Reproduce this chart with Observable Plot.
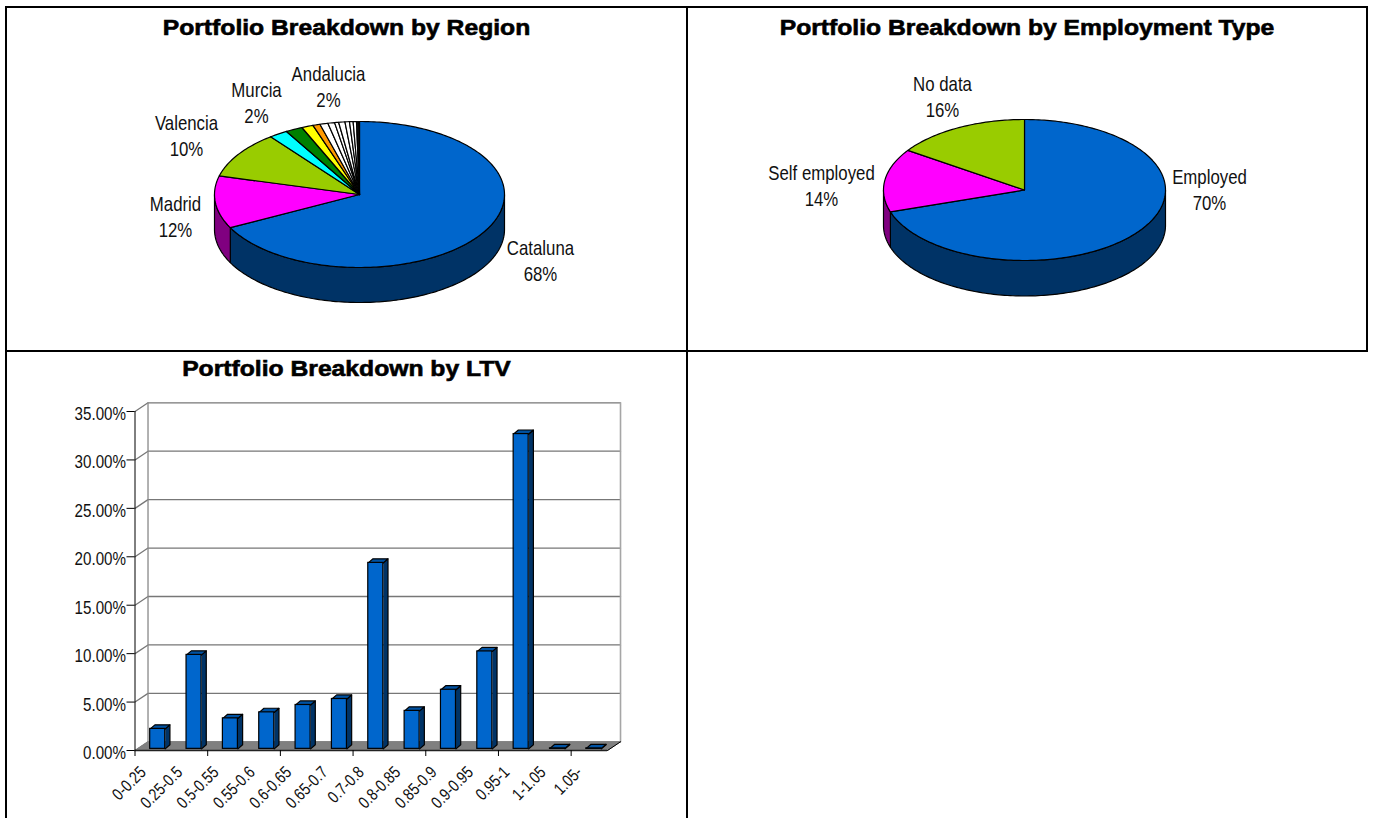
<!DOCTYPE html>
<html>
<head>
<meta charset="utf-8">
<script src="https://cdn.jsdelivr.net/npm/d3@7"></script>
<script src="https://cdn.jsdelivr.net/npm/@observablehq/plot@0.6"></script>
<style>
  html,body{margin:0;padding:0;background:#fff;overflow:hidden;width:1374px;height:818px}
  .cell{position:absolute;box-sizing:border-box;border:2px solid #000}
  .title{position:absolute;text-align:center;font:bold 22px/26px "Liberation Sans",sans-serif;color:#000;-webkit-text-stroke:.6px #000;white-space:nowrap;transform:scaleX(1.122)}
  .chart{position:absolute}
  .chart svg{display:block;overflow:visible;background:none}
</style>
</head>
<body>
<div class="cell" style="left:5px;top:6px;width:683px;height:346px"></div>
<div class="cell" style="left:686px;top:6px;width:682px;height:346px"></div>
<div class="cell" style="left:5px;top:350px;width:683px;height:480px"></div>
<div class="title" id="t1" style="left:7px;top:15px;width:679px"></div>
<div class="title" id="t2" style="left:688px;top:15px;width:678px"></div>
<div class="title" id="t3" style="left:7px;top:356px;width:679px"></div>
<div class="chart" id="c1" style="left:7px;top:50px"></div>
<div class="chart" id="c2" style="left:688px;top:50px"></div>
<div class="chart" id="c3" style="left:7px;top:352px"></div>
<script>
// ---- data ----
const regionTitle = "Portfolio Breakdown by Region";
const regionShares = [67.5, 11.6, 10.4, 2.1, 1.9, 1.3, 0.8, 0.9, 0.75, 0.45, 0.7, 0.5, 0.4, 0.37, 0.13, 0.1, 0.1];
const regionColors = ["#0066CC","#FF00FF","#99CC00","#00FFFF","#008000","#FFFF00","#FF9900","#FFFFFF","#FFFFFF","#FFFFFF","#FFFFFF","#FFFFFF","#FFFFFF","#FFFFFF","#FFFFFF","#FFFFFF","#FFFFFF"];
const regionWalls = ["#003366","#800080"];
const regionLabels = ["Cataluna\n68%","Madrid\n12%","Valencia\n10%","Murcia\n2%","Andalucia\n2%"];

const employmentTitle = "Portfolio Breakdown by Employment Type";
const employmentShares = [70, 14.5, 15.5];
const employmentColors = ["#0066CC","#FF00FF","#99CC00"];
const employmentWalls = ["#003366","#800080"];
const employmentLabels = ["Employed\n70%","Self employed\n14%","No data\n16%"];

const ltvTitle = "Portfolio Breakdown by LTV";
const ltvCategories = ["0-0.25","0.25-0.5","0.5-0.55","0.55-0.6","0.6-0.65","0.65-0.7","0.7-0.8","0.8-0.85","0.85-0.9","0.9-0.95","0.95-1","1-1.05","1.05-"];
const ltvValues = [2.06, 9.7, 3.15, 3.77, 4.53, 5.15, 19.2, 3.92, 6.1, 10.06, 32.5, 0.05, 0.05];
const ltvTicks = [0, 5, 10, 15, 20, 25, 30, 35];

// ---- layout ----
const FONT = '"Liberation Sans",sans-serif';
const PIE_LABEL_SIZE = 20.5;
const TICK_SIZE = 18.5;
const NARROW = 0.82; // the labels are set in a narrow grotesque
const regionLayout = {cx:359, cy:194, rx:145, ry:73, depth:35, top:50, left:7, w:679, h:300,
  labelOffsets:[[181,67],[-184,23],[-173,-58],[-103,-91],[-31,-107]]};
const employmentLayout = {cx:1024, cy:189.5, rx:141, ry:70.5, depth:35.5, top:50, left:688, w:678, h:300,
  labelOffsets:[[185,0.5],[-203,-3.5],[-82,-92.5]]};

function narrow(svg){
  svg.querySelectorAll("text").forEach(t => {
    if (t.textContent) t.setAttribute("transform", (t.getAttribute("transform") || "") + ` scale(${NARROW},1)`);
  });
  return svg;
}

function piePlot(shares, colors, walls, labels, L){
  const depthU = L.depth / L.ry;
  const tau = Math.PI * 2;
  const pt = (a, drop = 0) => ({x: Math.sin(a), y: Math.cos(a) - drop});
  const arc = (a0, a1, drop) => {
    const n = Math.max(1, Math.ceil(Math.abs(a1 - a0) / 0.02));
    return d3.range(n + 1).map(i => pt(a0 + (a1 - a0) * i / n, drop));
  };
  let cum = 0;
  const total = d3.sum(shares);
  const slices = shares.map((v, i) => {
    const a0 = cum / total * tau; cum += v;
    return {i, a0, a1: cum / total * tau};
  });
  const sides = [], tops = [];
  slices.forEach(s => {
    const a0 = Math.max(s.a0, Math.PI / 2), a1 = Math.min(s.a1, Math.PI * 1.5);
    if (a1 > a0 && walls[s.i]) {
      const pts = [...arc(a0, a1, 0), ...arc(a1, a0, depthU)];
      pts.push(pts[0]);
      pts.forEach(p => sides.push({...p, id: s.i, color: walls[s.i]}));
    }
    const pts = [{x:0, y:0}, ...arc(s.a0, s.a1, 0), {x:0, y:0}];
    pts.forEach(p => tops.push({...p, id: s.i, color: colors[s.i]}));
  });
  const labelRows = labels.map((text, i) => ({
    text, x: L.labelOffsets[i][0] / L.rx, y: -L.labelOffsets[i][1] / L.ry
  }));
  return narrow(Plot.plot({
    width: L.w, height: L.h, margin: 0,
    style: {fontFamily: FONT, background: "none", overflow: "visible"},
    x: {axis: null, domain: [-1, 1], range: [L.cx - L.rx - L.left, L.cx + L.rx - L.left]},
    y: {axis: null, domain: [-1, 1], range: [L.cy + L.ry - L.top, L.cy - L.ry - L.top]},
    marks: [
      Plot.line(sides, {x:"x", y:"y", z:"id", fill:"color", stroke:"#000", strokeWidth:1.2, strokeLinejoin:"round"}),
      Plot.line(tops,  {x:"x", y:"y", z:"id", fill:"color", stroke:"#000", strokeWidth:1.2, strokeLinejoin:"round"}),
      Plot.text(labelRows, {x:"x", y:"y", text:"text", dy:-1.5, fontSize:PIE_LABEL_SIZE, lineHeight:1.27, fill:"#111", textAnchor:"middle", lineAnchor:"middle"})
    ]
  }));
}

function ltvPlot(){
  const depthX = 0.358, depthY = 0.9;      // depth of the floor, in scale units
  const barX = 0.418, barW = 0.413, base = 0.17; // bar placement inside its band
  const sideX = 0.13, sideY = 0.42;        // 3-D extrusion of a bar
  const n = ltvCategories.length;
  const grid = ltvTicks.slice(1).concat(0).flatMap(t => [
    {x:0, y:t, id:t}, {x:depthX, y:t + depthY, id:t}, {x:n + depthX, y:t + depthY, id:t}
  ]);
  const floor = [{x:0,y:0},{x:depthX,y:depthY},{x:n + depthX,y:depthY},{x:n,y:0},{x:0,y:0}];
  const bars = ltvValues.map((v, i) => ({i, label: ltvCategories[i], x1: i + barX, x2: i + barX + barW, y1: base, y2: base + v}));
  const poly = (b, f) => f(b).concat(f(b)[0]).map(p => ({x:p[0], y:p[1], id:b.i}));
  const sideFaces = bars.flatMap(b => poly(b, b => [[b.x2,b.y1],[b.x2 + sideX,b.y1 + sideY],[b.x2 + sideX,b.y2 + sideY],[b.x2,b.y2]]));
  const topFaces = bars.flatMap(b => poly(b, b => [[b.x1,b.y2],[b.x1 + sideX,b.y2 + sideY],[b.x2 + sideX,b.y2 + sideY],[b.x2,b.y2]]));
  return narrow(Plot.plot({
    width: 679, height: 466,
    marginLeft: 127.5, marginRight: 79, marginTop: 59, marginBottom: 68,
    style: {fontFamily: FONT, background: "none", overflow: "visible", color:"#111"},
    x: {domain: [0, n], axis: null},
    y: {domain: [0, 35], axis: null},
    marks: [
      Plot.line(grid, {x:"x", y:"y", z:"id", stroke:"#777", strokeWidth:1.3}),
      Plot.line([{x:depthX,y:depthY},{x:depthX,y:35 + depthY}], {x:"x", y:"y", stroke:"#888", strokeWidth:1.3}),
      Plot.line([{x:n + depthX,y:depthY},{x:n + depthX,y:35 + depthY}], {x:"x", y:"y", stroke:"#a6a6a6", strokeWidth:1.6}),
      Plot.line(floor, {x:"x", y:"y", fill:"#808080", stroke:"#808080", strokeWidth:1}),
      Plot.line([{x:n,y:0},{x:n + depthX,y:depthY}], {x:"x", y:"y", stroke:"#000", strokeWidth:1}),
      Plot.ruleX([0], {y1:0, y2:35, stroke:"#000", strokeWidth:1}),
      Plot.ruleY([0], {x1:0, x2:n, stroke:"#222", strokeWidth:1.6}),
      Plot.axisY({values: ltvTicks, tickFormat: () => "", tickSize: 8, label: null, stroke:"#000"}),
      Plot.text(ltvTicks, {y:d => d, text:d => d.toFixed(2) + "%", frameAnchor:"left", dx:-9, dy:2.5, textAnchor:"end", fontSize:TICK_SIZE, fill:"#111"}),
      Plot.axisX({values: d3.range(n + 1), tickFormat: () => "", tickSize: 6, label: null, stroke:"#000"}),
      Plot.line(sideFaces, {x:"x", y:"y", z:"id", fill:"#003366", stroke:"#000", strokeWidth:1.2}),
      Plot.line(topFaces, {x:"x", y:"y", z:"id", fill:"#0052A3", stroke:"#000", strokeWidth:1.2}),
      Plot.rect(bars, {x1:"x1", x2:"x2", y1:"y1", y2:"y2", fill:"#0066CC", stroke:"#000", strokeWidth:1.2}),
      Plot.text(ltvCategories, {x:(d, i) => i + 0.5, y:() => 0, text:d => d, dx:-10, dy:19, rotate:-45, textAnchor:"end", lineAnchor:"middle", fontSize:17, fill:"#111"})
    ]
  }));
}

document.getElementById("t1").textContent = regionTitle;
document.getElementById("t2").textContent = employmentTitle;
document.getElementById("t3").textContent = ltvTitle;
document.getElementById("c1").append(piePlot(regionShares, regionColors, regionWalls, regionLabels, regionLayout));
document.getElementById("c2").append(piePlot(employmentShares, employmentColors, employmentWalls, employmentLabels, employmentLayout));
document.getElementById("c3").append(ltvPlot());
</script>
</body>
</html>
